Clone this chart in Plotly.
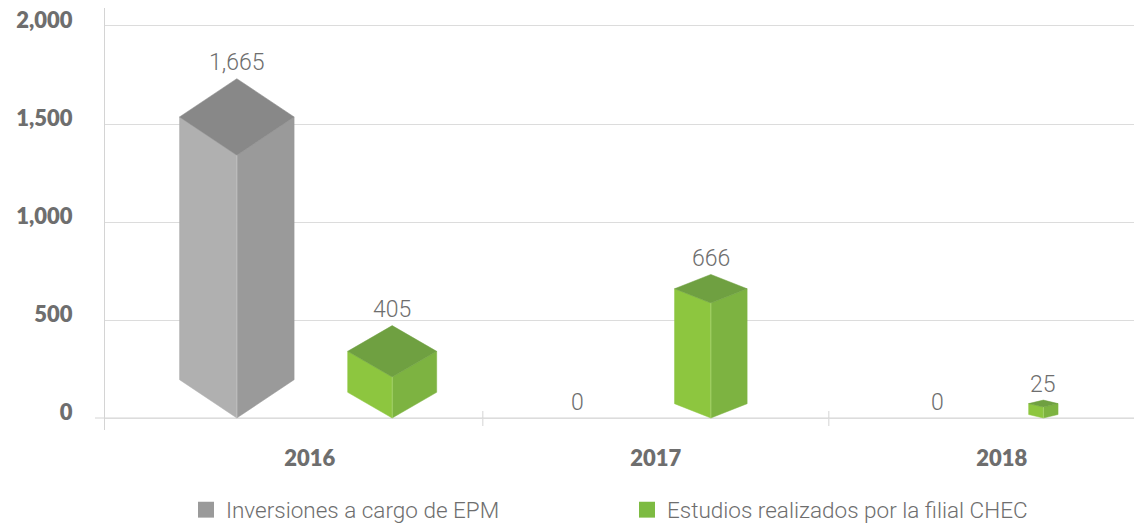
import plotly.graph_objects as go

# ---- data -------------------------------------------------------------
years = ["2016", "2017", "2018"]
epm_values = [1665, 0, 0]          # Inversiones a cargo de EPM
chec_values = [405, 666, 25]       # Estudios realizados por la filial CHEC

series_names = ["Inversiones a cargo de EPM", "Estudios realizados por la filial CHEC"]

# ---- figure geometry --------------------------------------------------
FIG_W, FIG_H = 1134, 524
M_L, M_R, M_T, M_B = 105, 0, 8, 94
PLOT_W = FIG_W - M_L - M_R
PLOT_H = FIG_H - M_T - M_B
X_RANGE = [-0.592, 2.382]
Y_RANGE = [-61.2, 2091.8]


def px_x(p):
    """horizontal pixels -> x data units"""
    return p * (X_RANGE[1] - X_RANGE[0]) / PLOT_W


def px_y(p):
    """vertical pixels -> y data units"""
    return p * (Y_RANGE[1] - Y_RANGE[0]) / PLOT_H


# ---- cuboid styling (pseudo-3D columns) -------------------------------
EPM_SHIFT = [-0.211, -0.225, -0.185]     # offset from category centre
CHEC_SHIFT = [0.238, 0.159, 0.120]
EPM_HALF_W = [57.3, 50.0, 45.0]          # px
EPM_DEPTH = [38.3, 30.0, 25.0]           # px, half height of the top diamond
CHEC_HALF_W = [44.5, 36.3, 14.7]
CHEC_DEPTH = [25.7, 14.3, 3.5]
CAP_LIFT = 13                            # px the top diamond rises above the value

EPM_COLORS = {"left": "#b0b0b0", "right": "#9a9a9a", "top": "#888888", "edge": "#c4c4c4"}
CHEC_COLORS = {"left": "#8dc63f", "right": "#7db341", "top": "#6fa041", "edge": "#a6d46a"}

TEXT_GREY = "#6e6e6e"
LABEL_FONT = dict(family="Roboto, Lato, sans-serif", size=23, color=TEXT_GREY, weight=300)
AXIS_FONT = dict(family="Lato, 'Open Sans', sans-serif", size=22, color="#6e6e6e", weight=800)

fig = go.Figure()


def add_cuboid(cx, value, half_w, depth, colors):
    """Draw one column as three filled faces: left, right and top."""
    top = value + px_y(CAP_LIFT)            # apex of the top diamond
    w = px_x(half_w)
    d = px_y(depth)
    apex = (cx, top)
    left = (cx - w, top - d)
    right = (cx + w, top - d)
    front = (cx, top - 2 * d)
    b_left = (cx - w, d)
    b_right = (cx + w, d)
    b_front = (cx, 0)
    faces = [
        ([left, front, b_front, b_left], colors["left"]),
        ([front, right, b_right, b_front], colors["right"]),
        ([apex, right, front, left], colors["top"]),
    ]
    for pts, col in faces:
        xs = [p[0] for p in pts] + [pts[0][0]]
        ys = [p[1] for p in pts] + [pts[0][1]]
        fig.add_trace(go.Scatter(
            x=xs, y=ys, mode="lines", fill="toself", fillcolor=col,
            line=dict(color=col, width=0.5), hoverinfo="skip", showlegend=False))
    # light front edge
    fig.add_trace(go.Scatter(
        x=[front[0], b_front[0]], y=[front[1], b_front[1]], mode="lines",
        line=dict(color=colors["edge"], width=1), hoverinfo="skip", showlegend=False))
    return top


annotations = []


def add_series(values, shifts, half_ws, depths, colors):
    for i, v in enumerate(values):
        cx = i + shifts[i]
        if v > 0:
            top = add_cuboid(cx, v, half_ws[i], depths[i], colors)
            y, shift = top, 16
        else:
            y, shift = 0, 16
        annotations.append(dict(
            x=cx, y=y, xref="x", yref="y", text=f"{v:,}", showarrow=False,
            yanchor="middle", xanchor="center", yshift=shift, font=LABEL_FONT))


add_series(epm_values, EPM_SHIFT, EPM_HALF_W, EPM_DEPTH, EPM_COLORS)
add_series(chec_values, CHEC_SHIFT, CHEC_HALF_W, CHEC_DEPTH, CHEC_COLORS)

# legend entries
for name, col in zip(series_names, ["#9a9a9a", "#7dbb42"]):
    fig.add_trace(go.Scatter(
        x=[None], y=[None], mode="markers", name=name,
        marker=dict(symbol="square", size=16, color=col)))

# baseline extending left of the value axis, and category separators
shapes = [
    dict(type="line", xref="paper", yref="y", x0=-10 / PLOT_W, x1=1, y0=0, y1=0,
         line=dict(color="#d4d4d4", width=1), layer="below"),
]
for sep in [0.5, 1.5]:
    shapes.append(dict(type="line", xref="x", yref="y", x0=sep, x1=sep,
                       y0=-px_y(8), y1=px_y(7), line=dict(color="#d4d4d4", width=1),
                       layer="below"))

fig.update_layout(
    width=FIG_W, height=FIG_H,
    margin=dict(l=M_L, r=M_R, t=M_T, b=M_B, pad=0, autoexpand=False),
    paper_bgcolor="white", plot_bgcolor="white",
    showlegend=True,
    legend=dict(
        orientation="h", x=(186 - M_L) / PLOT_W, xanchor="left",
        y=(FIG_H - M_B - 510) / PLOT_H, yanchor="middle",
        font=dict(family="Roboto, sans-serif", size=22.5, color=TEXT_GREY, weight=300),
        entrywidth=396, entrywidthmode="pixels", bgcolor="rgba(0,0,0,0)",
        itemclick=False, itemdoubleclick=False),
    xaxis=dict(
        range=X_RANGE, tickmode="array", tickvals=[0, 1, 2], ticktext=years,
        showgrid=False, zeroline=False, showline=False, ticks="",
        tickfont=AXIS_FONT, ticklabelstandoff=13, fixedrange=True),
    yaxis=dict(
        range=Y_RANGE, tickmode="array", tickvals=[0, 500, 1000, 1500, 2000],
        tickformat=",", showgrid=True, gridcolor="#dcdcdc", gridwidth=1,
        zeroline=False, showline=True, linecolor="#d4d4d4", linewidth=1,
        ticks="", tickfont=AXIS_FONT, ticklabelstandoff=27, ticklabelshift=-6,
        fixedrange=True),
    shapes=shapes,
    annotations=annotations,
)

fig.write_html("out.html")
